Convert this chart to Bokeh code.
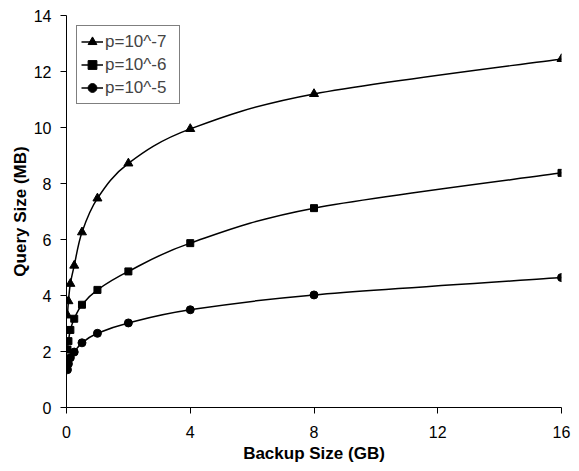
from bokeh.plotting import figure
from bokeh.models import Range1d, FixedTicker, ColumnDataSource, Legend, LegendItem
from bokeh.embed import file_html
from bokeh.resources import INLINE

backup_gb = [1/32, 1/16, 1/8, 1/4, 1/2, 1, 2, 4, 8, 16]
q_p7 = [3.29, 3.80, 4.42, 5.07, 6.26, 7.47, 8.72, 9.95, 11.2, 12.45]
q_p6 = [2.07, 2.37, 2.77, 3.17, 3.67, 4.20, 4.86, 5.87, 7.12, 8.38]
q_p5 = [1.35, 1.56, 1.78, 1.98, 2.31, 2.65, 3.02, 3.49, 4.02, 4.64]
labels = ["p=10^-7", "p=10^-6", "p=10^-5"]
x_ticks = [0, 4, 8, 12, 16]
y_ticks = [0, 2, 4, 6, 8, 10, 12, 14]

FONT = "Liberation Sans"


def smooth_segments(xs, ys):
    # Bezier control points for a smoothed line through the data points
    n = len(xs)
    d = dict(x0=[], y0=[], x1=[], y1=[], cx0=[], cy0=[], cx1=[], cy1=[])
    for i in range(n - 1):
        xp, yp = (xs[i - 1], ys[i - 1]) if i > 0 else (xs[i], ys[i])
        xn, yn = (xs[i + 2], ys[i + 2]) if i + 2 < n else (xs[i + 1], ys[i + 1])
        d["x0"].append(xs[i]); d["y0"].append(ys[i])
        d["x1"].append(xs[i + 1]); d["y1"].append(ys[i + 1])
        d["cx0"].append(xs[i] + (xs[i + 1] - xp) / 6)
        d["cy0"].append(ys[i] + (ys[i + 1] - yp) / 6)
        d["cx1"].append(xs[i + 1] - (xn - xs[i]) / 6)
        d["cy1"].append(ys[i + 1] - (yn - ys[i]) / 6)
    return ColumnDataSource(d)


p = figure(width=579, height=471, output_backend="svg", toolbar_location=None,
           x_range=Range1d(0, 16), y_range=Range1d(0, 14),
           min_border_left=66, min_border_right=18, min_border_top=15, min_border_bottom=64)
p.outline_line_color = None
p.xgrid.visible = False
p.ygrid.visible = False

series = [(q_p7, "triangle", 9, labels[0]),
          (q_p6, "square", 7, labels[1]),
          (q_p5, "circle", 8, labels[2])]
items = []
for vals, marker, size, lab in series:
    src = smooth_segments(backup_gb, vals)
    r1 = p.bezier(x0="x0", y0="y0", x1="x1", y1="y1", cx0="cx0", cy0="cy0",
                  cx1="cx1", cy1="cy1", source=src, line_color="black", line_width=1.5)
    r2 = p.scatter(backup_gb, vals, marker=marker, size=size, fill_color="black",
                   line_color="black")
    items.append(LegendItem(label=lab, renderers=[r1, r2]))

for ax in (p.xaxis, p.yaxis):
    ax.axis_line_color = "black"
    ax.major_tick_line_color = "black"
    ax.minor_tick_line_color = None
    ax.major_tick_in = 0
    ax.major_tick_out = 6
    ax.major_label_text_font = FONT
    ax.major_label_text_font_size = "16px"
    ax.major_label_text_color = "black"
    ax.axis_label_text_font = FONT
    ax.axis_label_text_font_size = "17px"
    ax.axis_label_text_font_style = "bold"
    ax.axis_label_text_color = "black"

p.xaxis.ticker = FixedTicker(ticks=x_ticks)
p.yaxis.ticker = FixedTicker(ticks=y_ticks)
p.xaxis.axis_label = "Backup Size (GB)"
p.yaxis.axis_label = "Query Size (MB)"
p.xaxis.major_label_standoff = 12
p.yaxis.major_label_standoff = 9
p.xaxis.axis_label_standoff = 3
p.yaxis.axis_label_standoff = 1

leg = Legend(items=items, location="top_left")
leg.margin = 10
leg.padding = 4
leg.spacing = 0
leg.glyph_width = 22
leg.glyph_height = 23
leg.label_height = 23
leg.label_width = 70
leg.label_standoff = 2
leg.label_text_font = FONT
leg.label_text_font_size = "17px"
leg.border_line_color = "black"
leg.border_line_width = 1
leg.background_fill_alpha = 1
p.add_layout(leg)

open("out.html", "w").write(file_html(p, INLINE))
